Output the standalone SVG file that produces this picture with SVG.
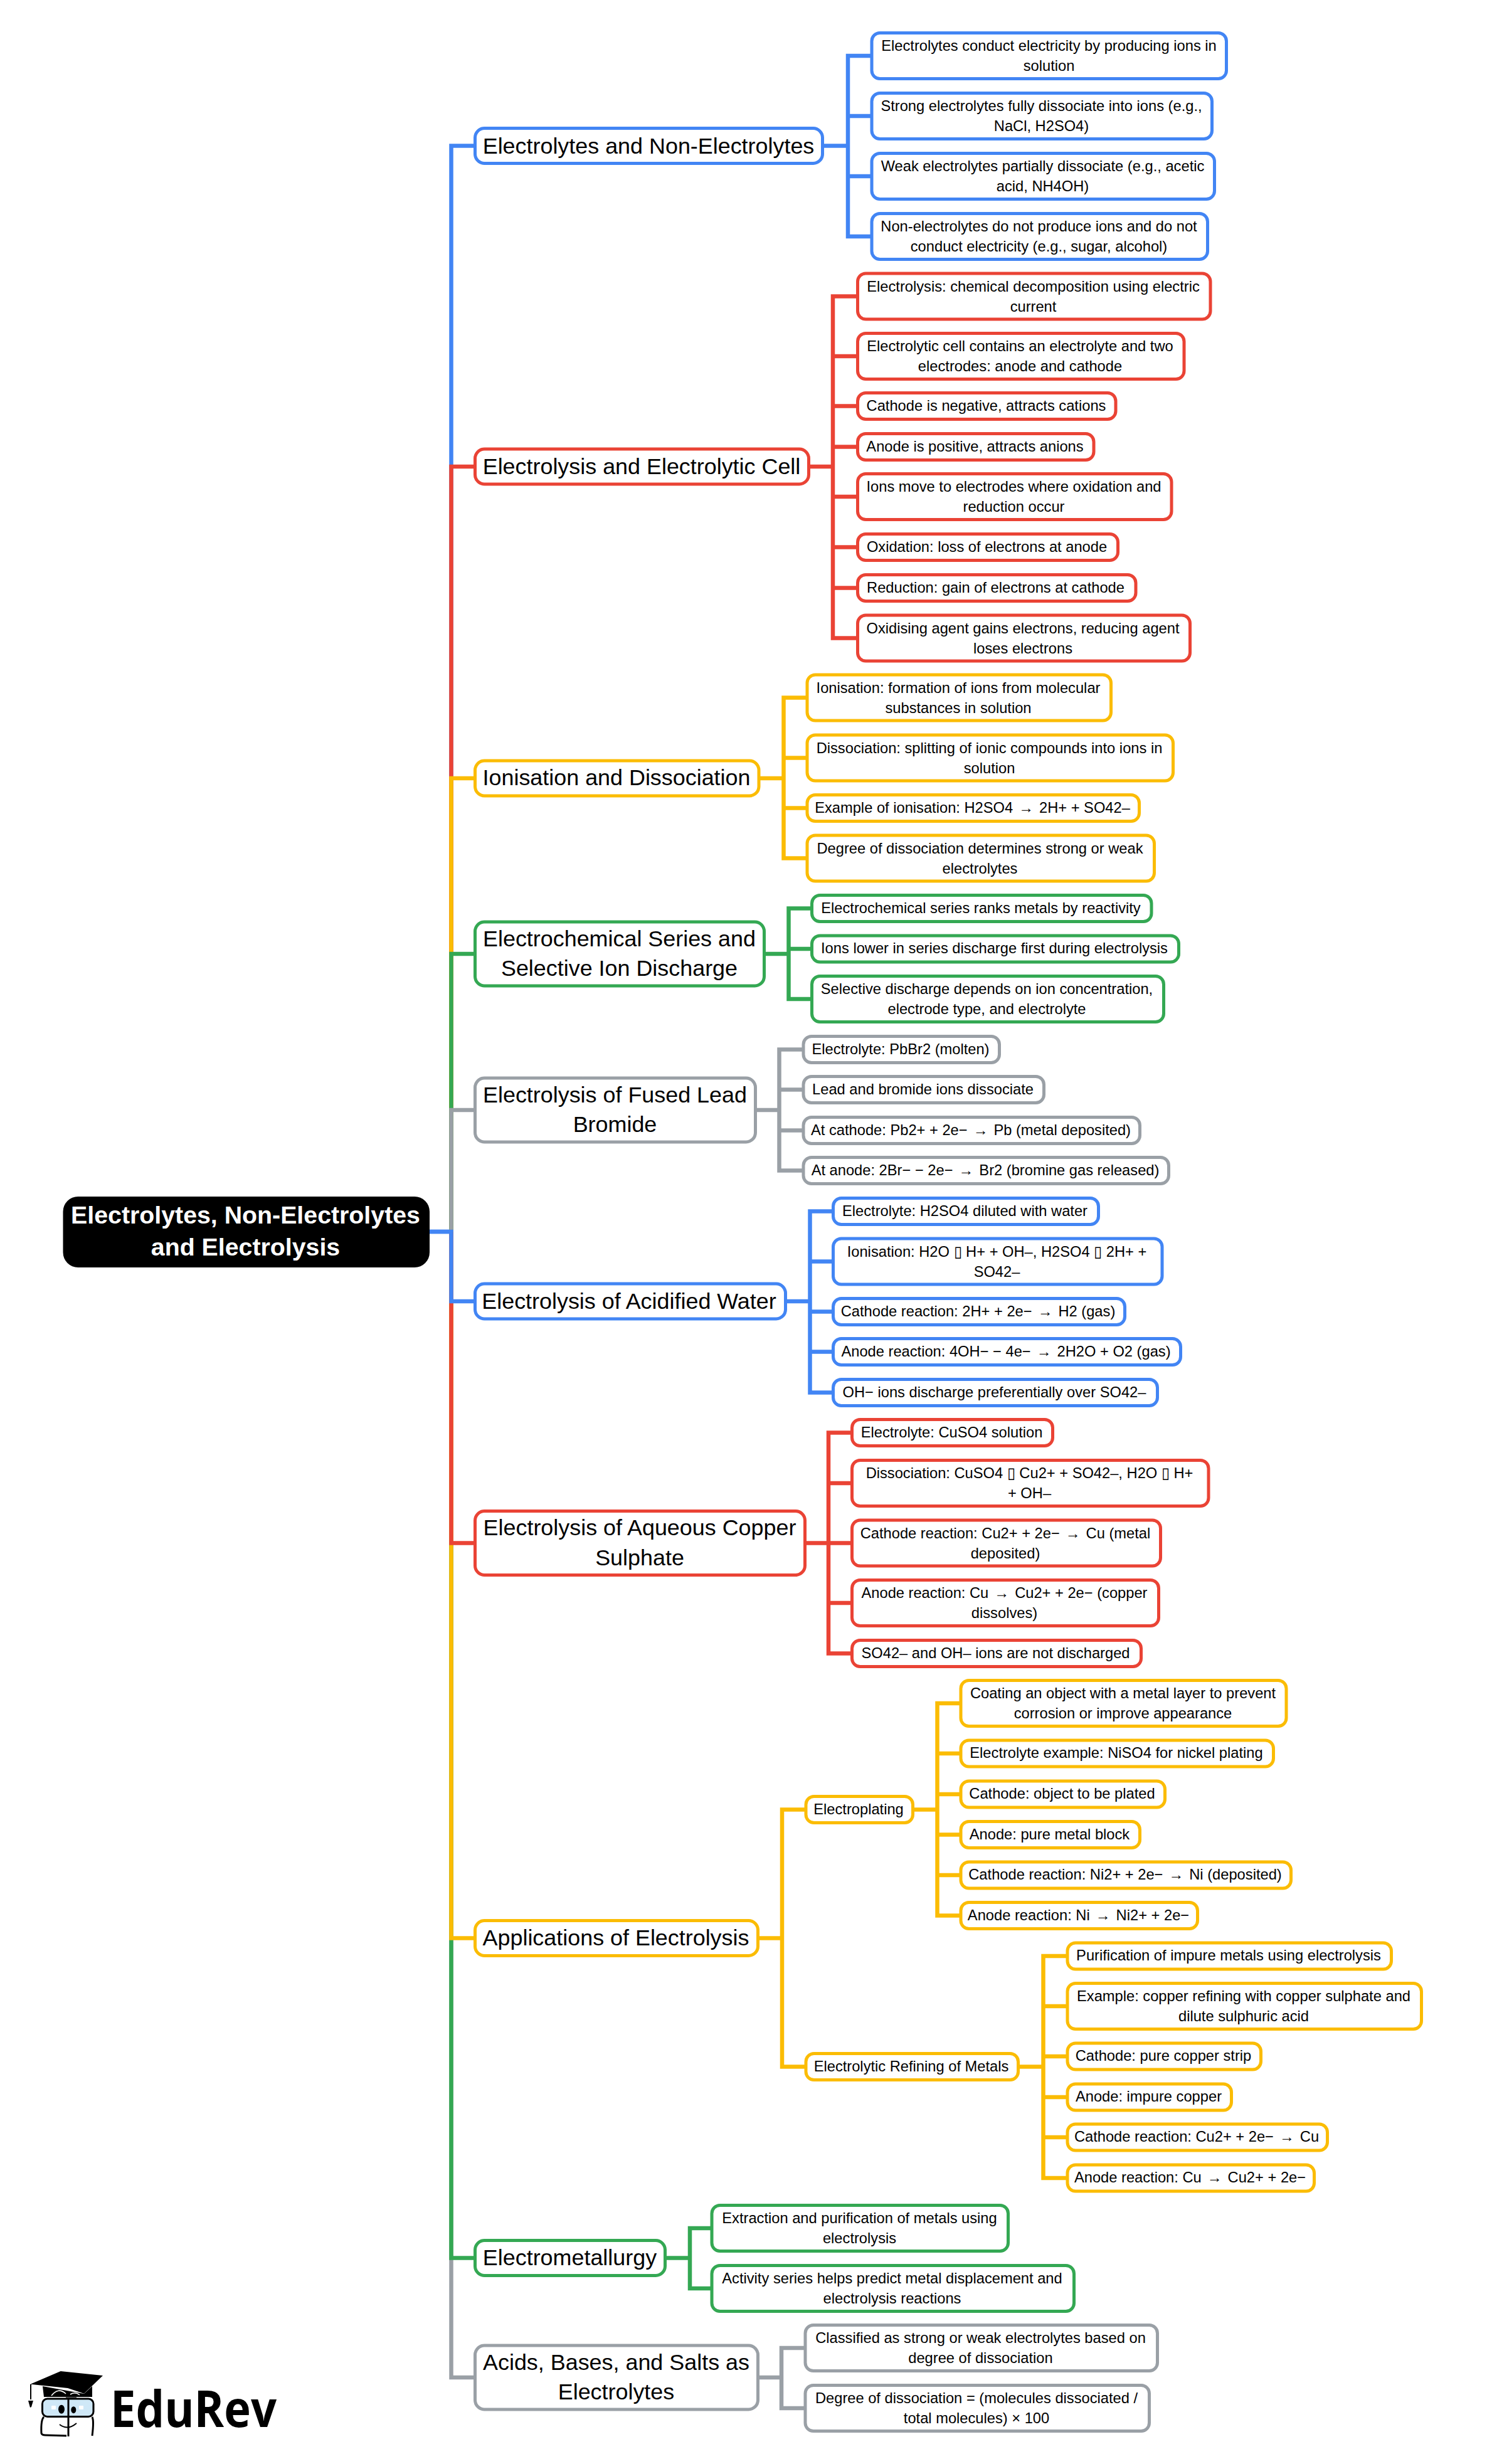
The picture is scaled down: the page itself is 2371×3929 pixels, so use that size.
<svg xmlns="http://www.w3.org/2000/svg" width="2371" height="3929" viewBox="0 0 2371 3929">
<style>
text{font-family:"Liberation Sans",Arial,sans-serif;fill:#000;text-anchor:middle}
.l{font-size:23.7px;transform:translateX(-1.5px)}.n{font-size:35.9px;transform:translateX(-1px)}
.root{font-size:39.3px;font-weight:700;fill:#fff;transform:translateX(-1px)}
.a{word-spacing:2.5px}
rect{fill:#fff;stroke-width:5}
.c path{fill:none;stroke-width:6.5;stroke-linejoin:miter;stroke-linecap:butt}
.B{stroke:#4285F4}.R{stroke:#EA4335}.Y{stroke:#FBBC04}.G{stroke:#34A853}.K{stroke:#9AA0A6}
rect.m{rx:15px}rect.s{rx:13px}
</style>
<rect width="2371" height="3929" style="fill:#fff;stroke:none"/>
<g id="connectors" class="c">
<path class="B" d="M685 1964H719.5V232.5H758"/>
<path class="R" d="M719.5 1964V744H758"/>
<path class="Y" d="M719.5 1964V1241H758"/>
<path class="G" d="M719.5 1964V1521H758"/>
<path class="K" d="M719.5 1964V1770H758"/>
<path class="K" d="M719.5 1964V3791H758"/>
<path class="G" d="M719.5 1964V3600.5H758"/>
<path class="Y" d="M719.5 1964V3090.5H757"/>
<path class="R" d="M719.5 1964V2460.5H758"/>
<path class="B" d="M685 1964H719.5V2075H758"/>
<path class="B" d="M1312 232.5H1352M1392 89H1352V377H1392M1352 185H1392M1352 281H1392"/>
<path class="R" d="M1290 744H1328M1370 472.5H1328V1017.5H1370M1328 568H1370M1328 647.5H1370M1328 712.5H1370M1328 792H1370M1328 872.5H1370M1328 937.5H1370"/>
<path class="Y" d="M1210 1241H1249.5M1289.5 1112.5H1249.5V1368.5H1289.5M1249.5 1208.5H1289.5M1249.5 1288.5H1289.5"/>
<path class="G" d="M1219 1521H1257.5M1297 1448.5H1257.5V1593H1297M1257.5 1513H1297"/>
<path class="K" d="M1205 1770H1242.5M1283.5 1673.5H1242.5V1866.5H1283.5M1242.5 1737.5H1283.5M1242.5 1802.5H1283.5"/>
<path class="B" d="M1253 2075H1291.5M1331 1931.5H1291.5V2220.5H1331M1291.5 2011.5H1331M1291.5 2091.5H1331M1291.5 2155.5H1331"/>
<path class="R" d="M1284 2460.5H1321M1361 2284.5H1321V2636.5H1361M1321 2365H1361M1321 2460.5H1361M1321 2556H1361"/>
<path class="Y" d="M1208 3090.5H1247M1287.5 2885.5H1247V3295.5H1287.5"/>
<path class="Y" d="M1456 2885.5H1494.5M1534.5 2716H1494.5V3054.5H1534.5M1494.5 2796H1534.5M1494.5 2861H1534.5M1494.5 2925.5H1534.5M1494.5 2990H1534.5"/>
<path class="Y" d="M1624 3295.5H1663.5M1704.5 3119H1663.5V3473H1704.5M1663.5 3199H1704.5M1663.5 3279H1704.5M1663.5 3344H1704.5M1663.5 3408H1704.5"/>
<path class="G" d="M1061 3600.5H1100M1137.5 3553H1100V3649H1137.5"/>
<path class="K" d="M1209 3791H1246M1286.5 3744H1246V3840H1286.5"/>
</g>
<g id="root"><rect x="100.5" y="1908" width="584.5" height="113" rx="24" style="fill:#000;stroke:none"/><text class="root" x="392.5" y="1951">Electrolytes, Non-Electrolytes</text><text class="root" x="392.5" y="2002">and Electrolysis</text></g>

<g id="n1"><rect class="m B" x="757.5" y="204.5" width="554" height="56"/><text class="n" x="1035" y="244.5">Electrolytes and Non-Electrolytes</text></g>
<g id="n1a"><rect class="s B" x="1390" y="52.5" width="565.5" height="73"/><text class="l" x="1674" y="81">Electrolytes conduct electricity by producing ions in</text><text class="l" x="1674" y="113">solution</text></g>
<g id="n1b"><rect class="s B" x="1390" y="148.5" width="542.5" height="73"/><text class="l" x="1662" y="177">Strong electrolytes fully dissociate into ions (e.g.,</text><text class="l" x="1662" y="209">NaCl, H2SO4)</text></g>
<g id="n1c"><rect class="s B" x="1390" y="244.5" width="546.5" height="73"/><text class="l" x="1664" y="273">Weak electrolytes partially dissociate (e.g., acetic</text><text class="l" x="1664" y="305">acid, NH4OH)</text></g>
<g id="n1d"><rect class="s B" x="1390" y="340.5" width="535.5" height="73"/><text class="l" x="1658" y="369">Non-electrolytes do not produce ions and do not</text><text class="l" x="1658" y="401">conduct electricity (e.g., sugar, alcohol)</text></g>

<g id="n2"><rect class="m R" x="757.5" y="716" width="532" height="56"/><text class="n" x="1024" y="755.5">Electrolysis and Electrolytic Cell</text></g>
<g id="n2a"><rect class="s R" x="1367.5" y="436" width="562.5" height="73"/><text class="l" x="1649" y="464.5">Electrolysis: chemical decomposition using electric</text><text class="l" x="1649" y="496.5">current</text></g>
<g id="n2b"><rect class="s R" x="1367.5" y="531.5" width="520.5" height="73"/><text class="l" x="1628" y="560">Electrolytic cell contains an electrolyte and two</text><text class="l" x="1628" y="592">electrodes: anode and cathode</text></g>
<g id="n2c"><rect class="s R" x="1367.5" y="626.5" width="411.5" height="42"/><text class="l" x="1574" y="654.5">Cathode is negative, attracts cations</text></g>
<g id="n2d"><rect class="s R" x="1367.5" y="691.5" width="376.5" height="42"/><text class="l" x="1556" y="719.5">Anode is positive, attracts anions</text></g>
<g id="n2e"><rect class="s R" x="1367.5" y="755.5" width="500.5" height="73"/><text class="l" x="1618" y="784">Ions move to electrodes where oxidation and</text><text class="l" x="1618" y="816">reduction occur</text></g>
<g id="n2f"><rect class="s R" x="1367.5" y="851.5" width="415" height="42"/><text class="l" x="1575" y="879.5">Oxidation: loss of electrons at anode</text></g>
<g id="n2g"><rect class="s R" x="1367.5" y="916.5" width="443.5" height="42"/><text class="l" x="1589" y="944.5">Reduction: gain of electrons at cathode</text></g>
<g id="n2h"><rect class="s R" x="1367.5" y="981" width="530" height="73"/><text class="l" x="1632.5" y="1009.5">Oxidising agent gains electrons, reducing agent</text><text class="l" x="1632.5" y="1041.5">loses electrons</text></g>

<g id="n3"><rect class="m Y" x="757.5" y="1213" width="452.5" height="56"/><text class="n" x="984" y="1252">Ionisation and Dissociation</text></g>
<g id="n3a"><rect class="s Y" x="1287" y="1076" width="484.5" height="73"/><text class="l" x="1529.5" y="1104.5">Ionisation: formation of ions from molecular</text><text class="l" x="1529.5" y="1136.5">substances in solution</text></g>
<g id="n3b"><rect class="s Y" x="1287" y="1172" width="583.5" height="73"/><text class="l" x="1579" y="1200.5">Dissociation: splitting of ionic compounds into ions in</text><text class="l" x="1579" y="1232.5">solution</text></g>
<g id="n3c"><rect class="s Y" x="1287" y="1267.5" width="529.5" height="42"/><text class="l" x="1552" y="1295.5">Example of ionisation: H2SO4<tspan class="a"> → </tspan>2H+ + SO42–</text></g>
<g id="n3d"><rect class="s Y" x="1287" y="1332" width="553.5" height="73"/><text class="l" x="1564" y="1360.5">Degree of dissociation determines strong or weak</text><text class="l" x="1564" y="1392.5">electrolytes</text></g>

<g id="n4"><rect class="m G" x="757.5" y="1470" width="461" height="102"/><text class="n" x="988.5" y="1508.5">Electrochemical Series and</text><text class="n" x="988.5" y="1556">Selective Ion Discharge</text></g>
<g id="n4a"><rect class="s G" x="1294.5" y="1427.5" width="541.5" height="42"/><text class="l" x="1565.5" y="1455.5">Electrochemical series ranks metals by reactivity</text></g>
<g id="n4b"><rect class="s G" x="1294.5" y="1492" width="585" height="42"/><text class="l" x="1587" y="1520">Ions lower in series discharge first during electrolysis</text></g>
<g id="n4c"><rect class="s G" x="1294.5" y="1556.5" width="561" height="73"/><text class="l" x="1575" y="1585">Selective discharge depends on ion concentration,</text><text class="l" x="1575" y="1617">electrode type, and electrolyte</text></g>

<g id="n5"><rect class="m K" x="757.5" y="1719" width="447" height="102"/><text class="n" x="981.5" y="1757.5">Electrolysis of Fused Lead</text><text class="n" x="981.5" y="1805">Bromide</text></g>
<g id="n5a"><rect class="s K" x="1281" y="1652.5" width="312.5" height="42"/><text class="l" x="1437.5" y="1680.5">Electrolyte: PbBr2 (molten)</text></g>
<g id="n5b"><rect class="s K" x="1281" y="1716.5" width="383.5" height="42"/><text class="l" x="1473" y="1744.5">Lead and bromide ions dissociate</text></g>
<g id="n5c"><rect class="s K" x="1281" y="1781.5" width="536.5" height="42"/><text class="l" x="1549.5" y="1809.5">At cathode: Pb2+ + 2e−<tspan class="a"> → </tspan>Pb (metal deposited)</text></g>
<g id="n5d"><rect class="s K" x="1281" y="1845.5" width="582.5" height="42"/><text class="l" x="1572.5" y="1873.5">At anode: 2Br− − 2e−<tspan class="a"> → </tspan>Br2 (bromine gas released)</text></g>

<g id="n6"><rect class="m B" x="757.5" y="2047" width="495" height="56"/><text class="n" x="1004" y="2087">Electrolysis of Acidified Water</text></g>
<g id="n6a"><rect class="s B" x="1328.5" y="1910.5" width="423" height="42"/><text class="l" x="1540" y="1938.5">Electrolyte: H2SO4 diluted with water</text></g>
<g id="n6b"><rect class="s B" x="1328.5" y="1975" width="524.5" height="73"/><text class="l" x="1591" y="2003.5">Ionisation: H2O ▯ H+ + OH–, H2SO4 ▯ 2H+ +</text><text class="l" x="1591" y="2035.5">SO42–</text></g>
<g id="n6c"><rect class="s B" x="1328.5" y="2070.5" width="465" height="42"/><text class="l" x="1561" y="2098.5">Cathode reaction: 2H+ + 2e−<tspan class="a"> → </tspan>H2 (gas)</text></g>
<g id="n6d"><rect class="s B" x="1328.5" y="2134.5" width="554" height="42"/><text class="l" x="1605.5" y="2162.5">Anode reaction: 4OH− − 4e−<tspan class="a"> → </tspan>2H2O + O2 (gas)</text></g>
<g id="n6e"><rect class="s B" x="1328.5" y="2199.5" width="517" height="42"/><text class="l" x="1587" y="2227.5">OH− ions discharge preferentially over SO42–</text></g>

<g id="n7"><rect class="m R" x="757.5" y="2409.5" width="526" height="102"/><text class="n" x="1021" y="2448">Electrolysis of Aqueous Copper</text><text class="n" x="1021" y="2495.5">Sulphate</text></g>
<g id="n7a"><rect class="s R" x="1358.5" y="2263.5" width="320" height="42"/><text class="l" x="1519" y="2291.5">Electrolyte: CuSO4 solution</text></g>
<g id="n7b"><rect class="s R" x="1358.5" y="2328.5" width="568.5" height="73"/><text class="l" x="1643" y="2357">Dissociation: CuSO4 ▯ Cu2+ + SO42–, H2O ▯ H+</text><text class="l" x="1643" y="2389">+ OH–</text></g>
<g id="n7c"><rect class="s R" x="1358.5" y="2424" width="492" height="73"/><text class="l" x="1604.5" y="2452.5">Cathode reaction: Cu2+ + 2e−<tspan class="a"> → </tspan>Cu (metal</text><text class="l" x="1604.5" y="2484.5">deposited)</text></g>
<g id="n7d"><rect class="s R" x="1358.5" y="2519.5" width="489" height="73"/><text class="l" x="1603" y="2548">Anode reaction: Cu<tspan class="a"> → </tspan>Cu2+ + 2e− (copper</text><text class="l" x="1603" y="2580">dissolves)</text></g>
<g id="n7e"><rect class="s R" x="1358.5" y="2615.5" width="461" height="42"/><text class="l" x="1589" y="2643.5">SO42– and OH– ions are not discharged</text></g>

<g id="n8"><rect class="m Y" x="757.5" y="3062.5" width="451" height="56"/><text class="n" x="983" y="3101.5">Applications of Electrolysis</text></g>
<g id="n8a"><rect class="s Y" x="1285" y="2864.5" width="170.5" height="42"/><text class="l" x="1370.5" y="2892.5">Electroplating</text></g>
<g id="n8a1"><rect class="s Y" x="1532" y="2679.5" width="519" height="73"/><text class="l" x="1792" y="2708">Coating an object with a metal layer to prevent</text><text class="l" x="1792" y="2740">corrosion or improve appearance</text></g>
<g id="n8a2"><rect class="s Y" x="1532" y="2775" width="498.5" height="42"/><text class="l" x="1781.5" y="2803">Electrolyte example: NiSO4 for nickel plating</text></g>
<g id="n8a3"><rect class="s Y" x="1532" y="2840" width="325.5" height="42"/><text class="l" x="1695" y="2868">Cathode: object to be plated</text></g>
<g id="n8a4"><rect class="s Y" x="1532" y="2904.5" width="285.5" height="42"/><text class="l" x="1675" y="2932.5">Anode: pure metal block</text></g>
<g id="n8a5"><rect class="s Y" x="1532" y="2969" width="526.5" height="42"/><text class="l" x="1795.5" y="2997">Cathode reaction: Ni2+ + 2e−<tspan class="a"> → </tspan>Ni (deposited)</text></g>
<g id="n8a6"><rect class="s Y" x="1532" y="3033.5" width="377.5" height="42"/><text class="l" x="1721" y="3061.5">Anode reaction: Ni<tspan class="a"> → </tspan>Ni2+ + 2e−</text></g>
<g id="n8b"><rect class="s Y" x="1285" y="3274.5" width="338.5" height="42"/><text class="l" x="1454.5" y="3302.5">Electrolytic Refining of Metals</text></g>
<g id="n8b1"><rect class="s Y" x="1702" y="3098" width="516.5" height="42"/><text class="l" x="1960.5" y="3126">Purification of impure metals using electrolysis</text></g>
<g id="n8b2"><rect class="s Y" x="1702" y="3162.5" width="564.5" height="73"/><text class="l" x="1984.5" y="3191">Example: copper refining with copper sulphate and</text><text class="l" x="1984.5" y="3223">dilute sulphuric acid</text></g>
<g id="n8b3"><rect class="s Y" x="1702" y="3258" width="308.5" height="42"/><text class="l" x="1856.5" y="3286">Cathode: pure copper strip</text></g>
<g id="n8b4"><rect class="s Y" x="1702" y="3323" width="261.5" height="42"/><text class="l" x="1833" y="3351">Anode: impure copper</text></g>
<g id="n8b5"><rect class="s Y" x="1702" y="3387" width="414.5" height="42"/><text class="l" x="1909.5" y="3415">Cathode reaction: Cu2+ + 2e−<tspan class="a"> → </tspan>Cu</text></g>
<g id="n8b6"><rect class="s Y" x="1702" y="3452" width="393.5" height="42"/><text class="l" x="1899" y="3480">Anode reaction: Cu<tspan class="a"> → </tspan>Cu2+ + 2e−</text></g>

<g id="n9"><rect class="m G" x="757.5" y="3572.5" width="303" height="56"/><text class="n" x="909.5" y="3611.5">Electrometallurgy</text></g>
<g id="n9a"><rect class="s G" x="1135" y="3516.5" width="472.5" height="73"/><text class="l" x="1372" y="3545">Extraction and purification of metals using</text><text class="l" x="1372" y="3577">electrolysis</text></g>
<g id="n9b"><rect class="s G" x="1135" y="3612.5" width="577.5" height="73"/><text class="l" x="1424" y="3641">Activity series helps predict metal displacement and</text><text class="l" x="1424" y="3673">electrolysis reactions</text></g>

<g id="n10"><rect class="m K" x="757.5" y="3740" width="451" height="102"/><text class="n" x="983.5" y="3778.5">Acids, Bases, and Salts as</text><text class="n" x="983.5" y="3826">Electrolytes</text></g>
<g id="n10a"><rect class="s K" x="1284" y="3707.5" width="561.5" height="73"/><text class="l" x="1565" y="3736">Classified as strong or weak electrolytes based on</text><text class="l" x="1565" y="3768">degree of dissociation</text></g>
<g id="n10b"><rect class="s K" x="1284" y="3803.5" width="548.5" height="73"/><text class="l" x="1558.5" y="3832">Degree of dissociation = (molecules dissociated /</text><text class="l" x="1558.5" y="3864">total molecules) × 100</text></g>

<g id="logo">
<path d="M68 3805L70 3822H147L147 3805L134 3817Z" fill="#000"/>
<path d="M48.3 3801.7L96.7 3781L164 3788L134 3816.7L108 3808Z" fill="#000"/>
<path d="M49 3802V3826" stroke="#000" stroke-width="2" fill="none"/>
<path d="M45 3828H53L50 3838L48 3839Z" fill="#000"/>
<path d="M82 3820Q93 3806 105 3817M112 3818Q120 3813 127 3819" stroke="#fff" stroke-width="1.6" fill="none"/>
<rect x="67.5" y="3825" width="81.5" height="28.5" rx="8" style="fill:#cfe8f7;stroke:#000;stroke-width:3"/>
<path d="M70 3854Q65 3858 66 3880Q67 3883 72 3883L106 3884M147 3854Q150 3860 147 3884" stroke="#000" stroke-width="3" fill="none"/>
<path d="M109 3825V3885" stroke="#000" stroke-width="3" fill="none"/>
<path d="M105 3824H122" stroke="#000" stroke-width="3" fill="none"/>
<ellipse cx="98" cy="3841.7" rx="5" ry="7" fill="#000"/>
<ellipse cx="117.3" cy="3842.7" rx="4" ry="5.5" fill="#000"/>
<rect x="82" y="3836" width="7" height="6" rx="1" style="fill:#fff;stroke:none"/>
<rect x="126" y="3836" width="7" height="6" rx="1" style="fill:#fff;stroke:none"/>
<path d="M95 3866Q108 3876 122 3864" stroke="#000" stroke-width="2" fill="none"/>
<text x="176" y="3870" textLength="265" lengthAdjust="spacingAndGlyphs" style="font-family:'Open Sans',sans-serif;font-size:80px;font-weight:700;text-anchor:start">EduRev</text>
</g>
</svg>
